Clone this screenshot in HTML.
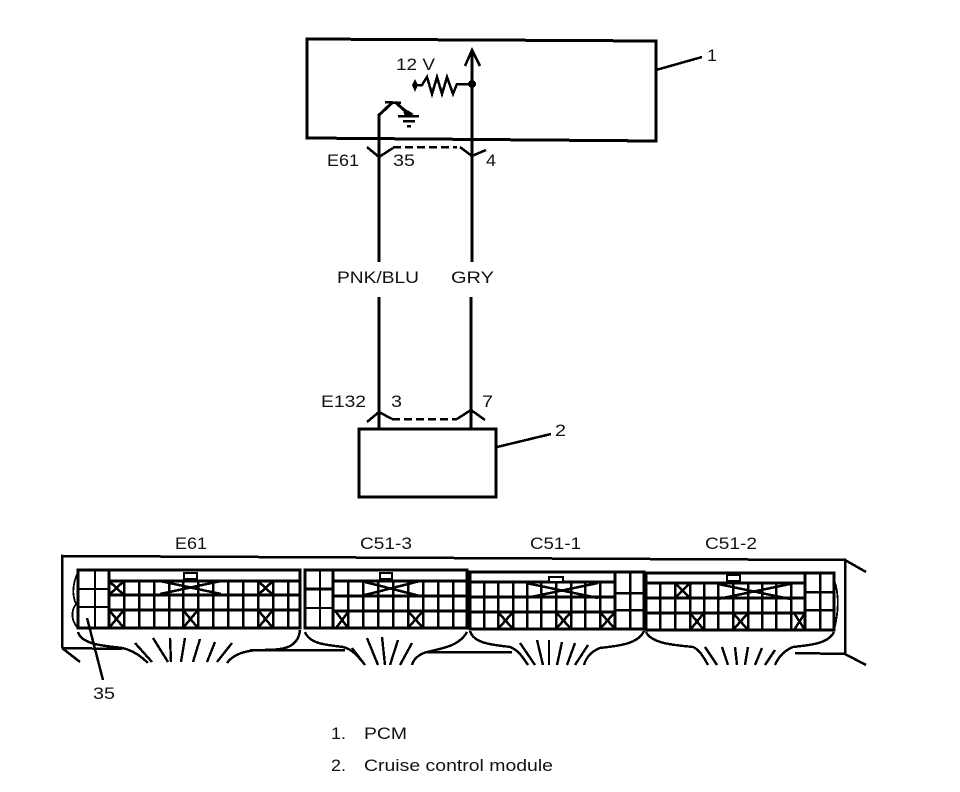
<!DOCTYPE html>
<html><head><meta charset="utf-8"><style>
html,body{margin:0;padding:0;background:#fff;width:960px;height:792px;overflow:hidden}
svg{display:block;shape-rendering:crispEdges}
text{font-family:"Liberation Sans",sans-serif;font-size:17px;fill:#111}
.l{fill:none;stroke:#000;stroke-width:2.5;stroke-linecap:butt;stroke-linejoin:miter}
.t{fill:none;stroke:#000;stroke-width:1.8}
.h{fill:none;stroke:#000;stroke-width:3}
.f{fill:none;stroke:#000;stroke-width:2.4}
</style></head><body>
<svg width="960" height="792" viewBox="0 0 960 792" xmlns="http://www.w3.org/2000/svg">
<!-- PCM box -->
<path class="h" d="M307 39 L656 41 L656 141 L307 138 Z"/>
<path class="l" d="M656 70 L702 57"/>
<text x="707" y="61" textLength="10" lengthAdjust="spacingAndGlyphs">1</text>
<text x="396" y="70" textLength="39" lengthAdjust="spacingAndGlyphs">12 V</text>
<!-- right wire -->
<path class="h" d="M472 50 L472 262"/>
<path class="l" d="M465 66 L472 50 L480 66"/>
<circle cx="472" cy="84" r="4" fill="#000"/>
<path class="l" d="M415 85 L422 85 L427 77 L432 94 L437 77 L442 94 L447 77 L453 94 L457 84 L472 84"/>
<path d="M415 79 L418 85 L415 92 L412 85 Z" fill="#000"/>
<!-- left wire / switch -->
<path class="h" d="M379 262 L379 115 L393 102"/>
<path class="l" d="M385 102 L401 103"/>
<path class="h" d="M395 102 L411 116"/>
<path d="M402 107 L414 114 L405 117 Z" fill="#000"/>
<path class="l" d="M398 116 L419 116 M403 121 L415 121 M407 126 L411 126"/>
<!-- E61 connector -->
<path class="l" d="M367 147 L379 157 L393 148"/>
<path class="l" stroke-dasharray="8 4" d="M393 147 L457 147"/>
<path class="l" d="M460 147 L472 156 L486 150"/>
<text x="327" y="166" textLength="32" lengthAdjust="spacingAndGlyphs">E61</text>
<text x="393" y="166" textLength="22" lengthAdjust="spacingAndGlyphs">35</text>
<text x="486" y="166" textLength="10" lengthAdjust="spacingAndGlyphs">4</text>
<text x="337" y="283" textLength="82" lengthAdjust="spacingAndGlyphs">PNK/BLU</text>
<text x="451" y="283" textLength="43" lengthAdjust="spacingAndGlyphs">GRY</text>
<!-- lower wires -->
<path class="h" d="M379 297 L379 430 M471 297 L471 430"/>
<path class="l" d="M367 422 L379 412 L392 419"/>
<path class="l" stroke-dasharray="8 4" d="M392 419 L457 419"/>
<path class="l" d="M457 419 L471 410 L485 420"/>
<text x="321" y="407" textLength="45" lengthAdjust="spacingAndGlyphs">E132</text>
<text x="391" y="407" textLength="11" lengthAdjust="spacingAndGlyphs">3</text>
<text x="482" y="407" textLength="11" lengthAdjust="spacingAndGlyphs">7</text>
<path class="h" d="M359 429 L496 429 L496 497 L359 497 Z"/>
<path class="l" d="M497 447 L551 434"/>
<text x="555" y="436" textLength="11" lengthAdjust="spacingAndGlyphs">2</text>
<!-- connector labels -->
<text x="175" y="549" textLength="32" lengthAdjust="spacingAndGlyphs">E61</text>
<text x="360" y="549" textLength="52" lengthAdjust="spacingAndGlyphs">C51-3</text>
<text x="530" y="549" textLength="51" lengthAdjust="spacingAndGlyphs">C51-1</text>
<text x="705" y="549" textLength="52" lengthAdjust="spacingAndGlyphs">C51-2</text>
<!-- outer housing -->
<path class="l" d="M62 648 L62 556 L845 560 L845 654"/>
<path class="l" d="M62 648 L122 649 M250 650 L345 650 M425 652 L512 652 M845 654 L795 653"/>
<path class="l" d="M62 648 L80 662 M845 654 L866 665 M845 560 L866 572"/>
<!-- E61 -->
<path class="h" d="M78 570 H300 V628 H78 Z"/>
<path class="t" d="M95 570 V628 M78 589 H109 M78 607 H109"/>
<path class="h" d="M109 570 V628 M109 581 H300 M109 595 H300 M109 610 H300"/>
<path class="l" d="M124 581 V628 M139 581 V628 M154 581 V628 M169 581 V628 M183 581 V628 M198 581 V628 M213 581 V628 M228 581 V628 M243 581 V628 M258 581 V628 M273 581 V628 M288 581 V628"/>
<path class="l" d="M160 581 L221 594 M160 594 L221 581"/>
<rect x="184" y="573" width="13" height="6" fill="#fff" stroke="#000" stroke-width="2"/>
<path class="l" d="M109 581 L124 595 M124 581 L109 595 M109 610 L124 628 M124 610 L109 628 M183 610 L198 628 M198 610 L183 628 M258 581 L273 595 M273 581 L258 595 M258 610 L273 628 M273 610 L258 628"/>
<path class="t" d="M78 572 C72 585 72 595 76 604 C70 612 72 622 78 628"/>
<path class="f" d="M78 632 C82 646 110 646 122 648 C132 650 140 655 148 663"/>
<path class="f" d="M300 630 C298 650 280 650 258 650 C242 651 232 656 227 663"/>
<path class="f" d="M135 643 L152 662 M153 638 L168 662 M170 638 L171 662 M185 638 L181 662 M200 639 L193 662 M215 642 L207 662 M232 643 L217 662"/>
<path class="l" d="M87 618 L103 680"/>
<text x="93" y="699" textLength="22" lengthAdjust="spacingAndGlyphs">35</text>
<!-- C51-3 -->
<path class="h" d="M305 570 H467 V628 H305 Z"/>
<path class="t" d="M320 570 V628 M305 608 H333"/>
<path class="h" d="M305 589 H333 M333 570 V628 M333 581 H467 M333 596 H467 M333 611 H467"/>
<path class="l" d="M348 581 V628 M363 581 V628 M378 581 V628 M393 581 V628 M408 581 V628 M423 581 V628 M438 581 V628 M453 581 V628"/>
<path class="l" d="M361 581 L420 596 M361 596 L420 581"/>
<rect x="380" y="573" width="12" height="6" fill="#fff" stroke="#000" stroke-width="2"/>
<path class="l" d="M336 612 L348 628 M348 612 L336 628 M408 611 L423 628 M423 611 L408 628"/>
<path class="f" d="M305 632 C310 645 330 645 343 647 C352 649 358 656 365 665"/>
<path class="f" d="M467 632 C460 645 445 648 427 652 C420 654 414 658 412 665"/>
<path class="f" d="M352 648 L365 665 M367 638 L378 665 M382 637 L385 665 M398 640 L390 665 M412 643 L400 665"/>
<!-- C51-1 -->
<path class="h" d="M470 572 H644 V629 H470 Z"/>
<path class="h" d="M470 582 H615 M470 597 H615 M470 612 H615 M615 572 V629"/>
<path class="l" d="M484 582 V629 M498 582 V629 M513 582 V629 M527 582 V629 M541 582 V629 M556 582 V629 M571 582 V629 M585 582 V629 M600 582 V629"/>
<path class="l" d="M630 572 V629 M615 593 H644 M615 610 H644"/>
<path class="l" d="M526 583 L598 598 M526 598 L598 583"/>
<rect x="549" y="577" width="14" height="5" fill="#fff" stroke="#000" stroke-width="2"/>
<path class="l" d="M498 612 L513 629 M513 612 L498 629 M556 612 L571 629 M571 612 L556 629 M600 612 L615 629 M615 612 L600 629"/>
<path class="f" d="M470 631 C474 645 498 645 510 647 C518 650 522 656 528 665"/>
<path class="f" d="M644 631 C638 645 615 646 600 648 C590 652 586 658 584 665"/>
<path class="f" d="M520 643 L535 665 M537 640 L543 665 M549 640 L549 665 M562 642 L557 665 M575 643 L567 665 M588 645 L575 665"/>
<!-- C51-2 -->
<path class="h" d="M646 573 H834 V630 H646 Z"/>
<path class="h" d="M646 583 H805 M646 598 H805 M646 613 H805 M805 573 V630"/>
<path class="l" d="M660 583 V630 M675 583 V630 M690 583 V630 M704 583 V630 M718 583 V630 M733 583 V630 M748 583 V630 M762 583 V630 M776 583 V630 M791 583 V630"/>
<path class="l" d="M820 573 V630 M805 592 H834 M805 610 H834"/>
<path class="l" d="M718 584 L790 599 M718 599 L790 584"/>
<rect x="727" y="575" width="13" height="6" fill="#fff" stroke="#000" stroke-width="2"/>
<path class="l" d="M675 583 L690 598 M690 583 L675 598 M690 613 L704 630 M704 613 L690 630 M733 613 L748 630 M748 613 L733 630 M794 613 L805 630 M805 613 L794 630"/>
<path class="t" d="M834 580 C840 595 838 615 834 630"/>
<path class="f" d="M646 632 C652 644 675 645 693 647 C700 650 704 658 708 665"/>
<path class="f" d="M834 632 C828 644 810 645 793 647 C783 651 778 658 775 665"/>
<path class="f" d="M705 647 L717 665 M722 647 L728 665 M735 647 L737 665 M748 647 L745 665 M762 648 L755 665 M775 650 L765 665"/>
<!-- legend -->
<text x="331" y="739" textLength="15" lengthAdjust="spacingAndGlyphs">1.</text>
<text x="364" y="739" textLength="43" lengthAdjust="spacingAndGlyphs">PCM</text>
<text x="331" y="771" textLength="15" lengthAdjust="spacingAndGlyphs">2.</text>
<text x="364" y="771" textLength="189" lengthAdjust="spacingAndGlyphs">Cruise control module</text>
</svg>
</body></html>
